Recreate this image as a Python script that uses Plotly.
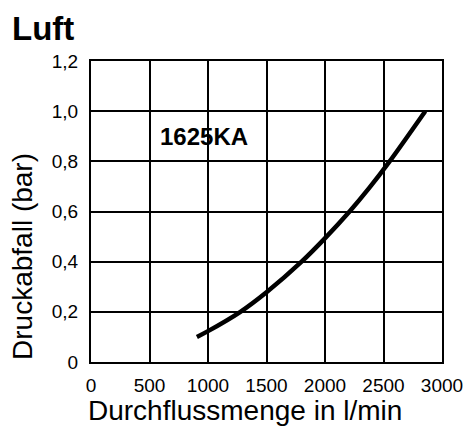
import plotly.graph_objects as go

flow = [905, 1000, 1277, 1500, 1800, 2005, 2210, 2380, 2546, 2857]
pressure = [0.1, 0.123, 0.2, 0.278, 0.4, 0.496, 0.6, 0.695, 0.796, 1.0]

x_ticks = [0, 500, 1000, 1500, 2000, 2500, 3000]
x_ticktext = ["0", "500", "1000", "1500", "2000", "2500", "3000"]
y_ticks = [0, 0.2, 0.4, 0.6, 0.8, 1.0, 1.2]
y_ticktext = ["0", "0,2", "0,4", "0,6", "0,8", "1,0", "1,2"]

title = "Luft"
label = "1625KA"
x_title = "Durchflussmenge in l/min"
y_title = "Druckabfall (bar)"

font = "Liberation Sans, Arial, sans-serif"

fig = go.Figure()
fig.add_trace(go.Scatter(x=flow, y=pressure, mode="lines",
                         line=dict(color="black", width=4.5, shape="spline", smoothing=1.0),
                         showlegend=False, hoverinfo="skip"))

axis_common = dict(showgrid=True, gridcolor="black", gridwidth=2,
                   showline=True, linecolor="black", linewidth=2, mirror=True,
                   zeroline=False, ticks="", tickfont=dict(size=19, color="black", family=font))

fig.update_xaxes(range=[0, 3000], tickvals=x_ticks, ticktext=x_ticktext, ticklabelstandoff=5, **axis_common)
fig.update_yaxes(range=[0, 1.2], tickvals=y_ticks, ticktext=y_ticktext, ticklabelstandoff=7, **axis_common)

fig.add_annotation(text=f"<b>{title}</b>", xref="paper", yref="paper", x=0, y=1,
                   xanchor="left", yanchor="middle", xshift=-81, yshift=33, showarrow=False,
                   font=dict(size=33, color="black", family=font))
fig.add_annotation(text=f"<b>{label}</b>", x=970, y=0.9, xref="x", yref="y", showarrow=False,
                   font=dict(size=24, color="black", family=font))
fig.add_annotation(text=x_title, xref="paper", yref="paper", x=0, y=0, xanchor="left",
                   yanchor="middle", xshift=-5, yshift=-48, showarrow=False,
                   font=dict(size=28, color="black", family=font))
fig.add_annotation(text=y_title, xref="paper", yref="paper", x=0, y=0.349, xanchor="center",
                   yanchor="middle", xshift=-68, textangle=-90, showarrow=False,
                   font=dict(size=28, color="black", family=font))

fig.update_layout(width=467, height=418, margin=dict(l=83, r=27, t=53, b=64),
                  plot_bgcolor="white", paper_bgcolor="white",
                  font=dict(family=font, color="black"))

fig.write_html("out.html")
